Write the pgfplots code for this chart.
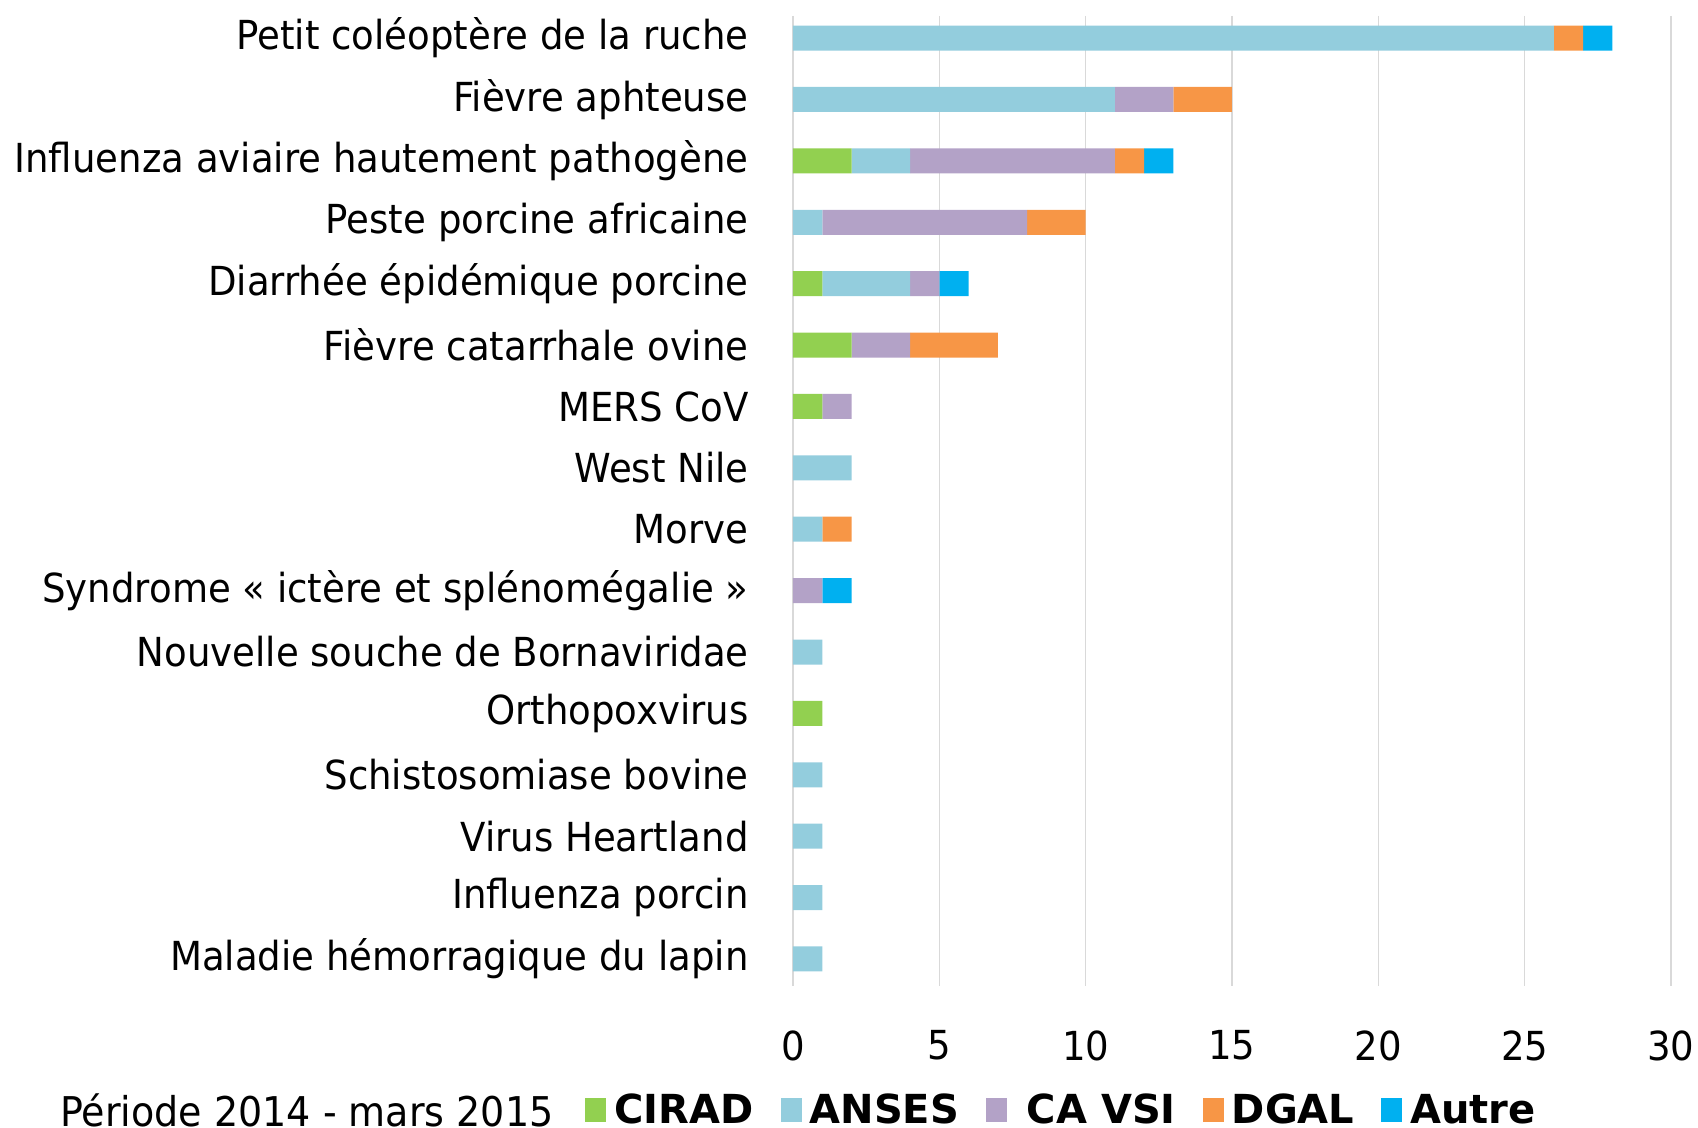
\documentclass[border=0pt]{standalone}
\usepackage{fontspec}
\setmainfont{DejaVu Sans}[FakeStretch=0.927]
\newfontfamily\legfont{DejaVu Sans}
\usepackage{pgfplots}
\pgfplotsset{compat=1.18}
\usetikzlibrary{calc}
\definecolor{cirad}{HTML}{92D050}
\definecolor{anses}{HTML}{93CDDD}
\definecolor{cavsi}{HTML}{B3A2C7}
\definecolor{dgal}{HTML}{F79646}
\definecolor{autre}{HTML}{00B0F0}
\definecolor{gridc}{HTML}{D9D9D9}
\begin{document}
\begin{tikzpicture}
\begin{axis}[
  name=ax,
  scale only axis,
  width=439pt, height=485pt,
  xbar stacked, bar width=12.5pt, bar shift=0pt,
  xmin=0, xmax=30,
  y dir=reverse,
  ymin=-0.36, ymax=15.44,
  ytick={0,...,15},
  yticklabels={
    Petit coléoptère de la ruche,
    Fièvre aphteuse,
    Influenza aviaire hautement pathogène,
    Peste porcine africaine,
    Diarrhée épidémique porcine,
    Fièvre catarrhale ovine\hspace{6.5pt},
    MERS CoV,
    West Nile,
    Morve,
    Syndrome « ictère et splénomégalie »\hspace{6.5pt},
    Nouvelle souche de Bornaviridae,
    Orthopoxvirus,
    Schistosomiase bovine,
    Virus Heartland,
    Influenza porcin,
    Maladie hémorragique du lapin},
  xtick={0,5,...,30},
  xmajorgrids,
  major grid style={gridc, line width=0.8pt},
  axis line style={draw=none},
  major tick length=0pt,
  tick style={draw=none},
  /pgf/number format/assume math mode=true,
  tick label style={font=\fontsize{20}{24}\selectfont},
  y tick label style={inner sep=0pt, anchor=east, xshift=-22pt},
  x tick label style={inner sep=0pt, anchor=north, yshift=-22pt},
  legend columns=-1,
  legend style={draw=none, fill=none, inner sep=0pt,
    at={($(rel axis cs:0,0)+(-104pt,-62pt)$)}, anchor=west,
    font=\legfont\fontsize{20}{24}\selectfont\bfseries,
    nodes={inner sep=0pt},
    /tikz/every odd column/.append style={column sep=4pt},
    /tikz/every even column/.append style={column sep=13.5pt}},
  legend image code/.code={\fill[#1,draw=none] (0pt,-6pt) rectangle (10.5pt,6pt);},
]
\addplot[fill=cirad, draw=none] coordinates {
 (0,0) (0,1) (2,2) (0,3) (1,4) (2,5) (1,6) (0,7) (0,8) (0,9) (0,10) (1,11) (0,12) (0,13) (0,14) (0,15)};
\addplot[fill=anses, draw=none] coordinates {
 (26,0) (11,1) (2,2) (1,3) (3,4) (0,5) (0,6) (2,7) (1,8) (0,9) (1,10) (0,11) (1,12) (1,13) (1,14) (1,15)};
\addplot[fill=cavsi, draw=none] coordinates {
 (0,0) (2,1) (7,2) (7,3) (1,4) (2,5) (1,6) (0,7) (0,8) (1,9) (0,10) (0,11) (0,12) (0,13) (0,14) (0,15)};
\addplot[fill=dgal, draw=none] coordinates {
 (1,0) (2,1) (1,2) (2,3) (0,4) (3,5) (0,6) (0,7) (1,8) (0,9) (0,10) (0,11) (0,12) (0,13) (0,14) (0,15)};
\addplot[fill=autre, draw=none] coordinates {
 (1,0) (0,1) (1,2) (0,3) (1,4) (0,5) (0,6) (0,7) (0,8) (1,9) (0,10) (0,11) (0,12) (0,13) (0,14) (0,15)};
\legend{CIRAD, ANSES, \hspace{6pt}CA VSI, DGAL, Autre}
\end{axis}
\node[anchor=west, inner sep=0pt, font=\fontsize{20.5}{24}\selectfont]
  at ($(ax.south west)+(-366.5pt,-62pt)$) {Période 2014 - mars 2015};
\pgfresetboundingbox
\path[use as bounding box] ($(ax.south west)+(-396.5pt,-71pt)$) rectangle ($(ax.north east)+(13.5pt,8pt)$);
\end{tikzpicture}
\end{document}
